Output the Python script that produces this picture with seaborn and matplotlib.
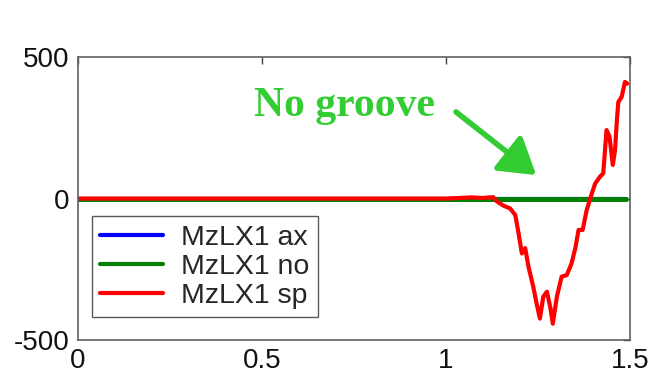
import numpy as np
import pandas as pd
import matplotlib
matplotlib.use("Agg")
import matplotlib.pyplot as plt
import seaborn as sns

# Lateral moment traces (MzLX1) for the three cases
series_names = ["MzLX1 ax", "MzLX1 no", "MzLX1 sp"]

x_ax = [0.0, 0.5, 1.0, 1.49]
y_ax = [0.0, 0.0, 0.0, 0.0]

x_no = [0.0, 0.5, 1.0, 1.2, 1.4, 1.49]
y_no = [0.0, 0.0, 0.0, 0.0, 0.0, 0.0]

x_sp = [0.0, 1.00, 1.07, 1.10, 1.128, 1.138, 1.156, 1.174, 1.188, 1.197,
        1.206, 1.215, 1.224, 1.237, 1.246, 1.255, 1.264, 1.274, 1.283, 1.290,
        1.301, 1.314, 1.328, 1.341, 1.351, 1.360, 1.371, 1.382, 1.396, 1.405,
        1.418, 1.427, 1.436, 1.444, 1.453, 1.459, 1.464, 1.468, 1.477, 1.486,
        1.492]
y_sp = [0, 0, 4, 2, 5, -10, -25, -35, -58, -123,
        -194, -175, -241, -312, -371, -424, -347, -329, -383, -442,
        -347, -276, -270, -229, -176, -111, -111, -41, 18, 53,
        77, 89, 242, 219, 119, 170, 276, 341, 359, 412,
        406]

x_ticks = [0, 0.5, 1, 1.5]
x_tick_labels = ["0", "0.5", "1", "1.5"]
y_ticks = [-500, 0, 500]
y_tick_labels = ["-500", "0", "500"]

annotation_text = "No groove"

frames = []
for name, xs, ys in zip(series_names, [x_ax, x_no, x_sp], [y_ax, y_no, y_sp]):
    frames.append(pd.DataFrame({"x": xs, "y": ys, "series": name}))
df = pd.concat(frames, ignore_index=True)

sns.set_theme(style="white")
plt.rcParams["font.family"] = ["Liberation Sans", "DejaVu Sans"]

fig = plt.figure(figsize=(6.55, 3.8), dpi=100)
ax = fig.add_axes([0.119, 0.105, 0.843, 0.745])

palette = {"MzLX1 ax": "#0000ff", "MzLX1 no": "#007f00", "MzLX1 sp": "#ff0000"}
sns.lineplot(data=df, x="x", y="y", hue="series", hue_order=series_names,
             palette=palette, estimator=None, sort=False, linewidth=3.0,
             ax=ax)
# the flat green trace reads slightly heavier than the red one
ax.get_lines()[1].set_linewidth(3.6)

ax.set_xlim(0, 1.5)
ax.set_ylim(-500, 500)
ax.set_xticks(x_ticks)
ax.set_xticklabels(x_tick_labels)
ax.set_yticks(y_ticks)
ax.set_yticklabels(y_tick_labels)
ax.set_xlabel("")
ax.set_ylabel("")
ax.tick_params(axis="both", direction="in", length=5, width=1, color="#404040",
               labelsize=20, top=True, right=True, pad=6, labelcolor="#111111")
for spine in ax.spines.values():
    spine.set_color("#606060")
    spine.set_linewidth(1.2)

leg = ax.legend(loc="lower left", bbox_to_anchor=(0.025, 0.081), fontsize=20.5,
                frameon=True, fancybox=False, handlelength=2.2,
                handletextpad=0.65, borderpad=0.3, labelspacing=0.1,
                borderaxespad=0.0)
leg.get_frame().set_edgecolor("#303030")
leg.get_frame().set_linewidth(1.0)
for line in leg.get_lines():
    line.set_linewidth(3.0)

ax.annotate(annotation_text, xy=(1.245, 83), xytext=(0.723, 290),
            textcoords="data", ha="center", va="baseline",
            fontsize=30, fontweight="bold", family="Liberation Serif",
            color="#33cc33")
ax.annotate("", xy=(1.245, 83), xytext=(1.027, 306),
            arrowprops=dict(arrowstyle="-|>,head_length=1.2,head_width=0.75",
                            color="#33cc33", lw=4, mutation_scale=18,
                            shrinkA=0, shrinkB=0))

fig.savefig("out.png", dpi=100)
